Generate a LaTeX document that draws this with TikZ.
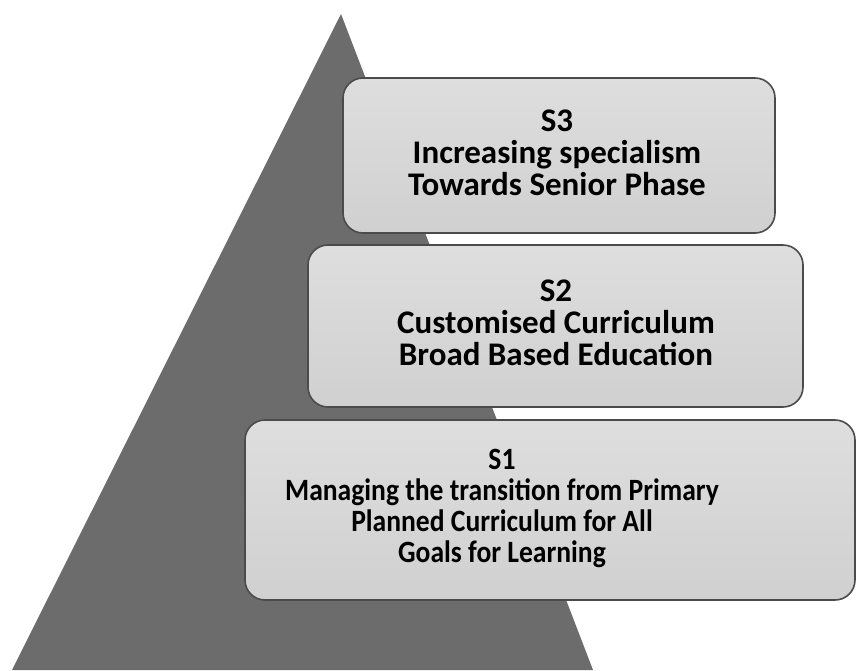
\documentclass[tikz,border=0pt]{standalone}
\usepackage{fontspec}
\usepackage{graphicx}
\setmainfont{Carlito}
\begin{document}
\begin{tikzpicture}[x=1pt,y=-1pt,
  tier/.style={draw=boxline, line width=1.6pt, rounded corners=20pt, top color=boxtop, bottom color=boxbot, inner sep=0pt},
  tiertext/.style={inner sep=0pt, text=black, font=\bfseries}]
\definecolor{pyr}{RGB}{108,108,108}
\definecolor{boxline}{RGB}{75,75,75}
\definecolor{boxtop}{RGB}{222,222,222}
\definecolor{boxbot}{RGB}{208,208,208}
\useasboundingbox (0,0) rectangle (858,670);
\fill[white] (0,0) rectangle (858,670);
\coordinate (apex) at (341,14);
\coordinate (bl) at (12,670);
\coordinate (br) at (593,670);
\fill[pyr] (apex) -- (br) -- (bl) -- cycle;
\node[tier, minimum width=432pt, minimum height=155pt] (s3) at (559,155.5) {};
\node[tiertext] (s3t) at (557,157) {\fontsize{33}{30}\selectfont\begin{tabular}{@{}c@{}}S3\\Increasing specialism\\Towards Senior Phase\end{tabular}};
\node[tier, minimum width=495pt, minimum height=162pt] (s2) at (555.5,326) {};
\node[tiertext] (s2t) at (556,327) {\fontsize{33}{30}\selectfont\begin{tabular}{@{}c@{}}S2\\Customised Curriculum\\Broad Based Education\end{tabular}};
\node[tier, minimum width=610pt, minimum height=180pt] (s1) at (550,510) {};
\node[tiertext] (s1t) at (502,510) {\scalebox{0.89}[1]{\fontsize{31}{31}\selectfont\begin{tabular}{@{}c@{}}S1\\Managing the transition from Primary\\Planned Curriculum for All\\Goals for Learning\end{tabular}}};
\end{tikzpicture}
\end{document}
